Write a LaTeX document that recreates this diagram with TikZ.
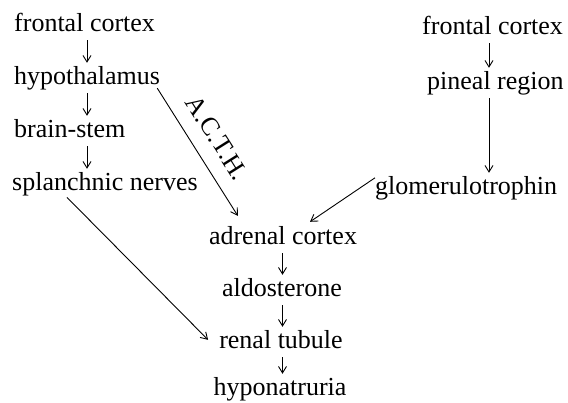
\documentclass[tikz,border=0pt]{standalone}
\usepackage{fontspec}
\setmainfont{Liberation Serif}
\usetikzlibrary{arrows.meta}
\begin{document}
\begin{tikzpicture}[x=1pt,y=-1pt,
  lbl/.style={inner sep=0pt, text height=18pt, text depth=5.7pt, font=\fontsize{26}{31}\selectfont},
  arr/.style={line width=0.9pt, -{Straight Barb[length=6.5pt,width=8pt]}},
  vline/.style={arr, shorten <=3.5pt, shorten >=3pt}]
\useasboundingbox (0,0) rectangle (568,402);
\node[lbl,anchor=base west] (fcl) at (14,31) {frontal cortex};
\node[lbl,anchor=base west] (hyp) at (14,84) {hypothalamus};
\node[lbl,anchor=base west] (bst) at (14,137) {brain-stem};
\node[lbl,anchor=base west] (spl) at (12,190) {splanchnic nerves};
\node[lbl,anchor=base west] (fcr) at (422,34) {frontal cortex};
\node[lbl,anchor=base west] (pin) at (427,89) {pineal region};
\node[lbl,anchor=base west] (glo) at (375,194) {glomerulotrophin};
\node[lbl,anchor=base] (adr) at (283,244) {adrenal cortex};
\node[lbl,anchor=base] (ald) at (282,296) {aldosterone};
\node[lbl,anchor=base] (ren) at (281,348) {renal tubule};
\node[lbl,anchor=base] (hypn) at (280,395) {hyponatruria};
\coordinate (cl) at (87,0);
\coordinate (cr) at (489,0);
\coordinate (cc) at (282.5,0);
\draw[vline] (fcl.south -| cl) -- (hyp.north -| cl);
\draw[vline] (hyp.south -| cl) -- (bst.north -| cl);
\draw[vline] (bst.south -| cl) -- (spl.north -| cl);
\draw[vline] (fcr.south -| cr) -- (pin.north -| cr);
\draw[vline] (pin.south -| cr) -- (glo.north -| cr);
\draw[vline] (adr.south -| cc) -- (ald.north -| cc);
\draw[vline] (ald.south -| cc) -- (ren.north -| cc);
\draw[vline] (ren.south -| cc) -- (hypn.north -| cc);
\draw[arr] ([shift={(-3,-1.7)}]hyp.south east) -- ([shift={(29,-10)}]adr.north west)
  node[pos=0.49, sloped, above=15pt, inner sep=0pt, font=\fontsize{26}{31}\selectfont] (acth) {A.C.T.H.};
\draw[arr] ([shift={(0,2)}]glo.north west) -- ([shift={(27,-4)}]adr.north);
\draw[arr] ([shift={(55,1.5)}]spl.south west) -- ([shift={(-11,-2)}]ren.west);
\end{tikzpicture}
\end{document}
